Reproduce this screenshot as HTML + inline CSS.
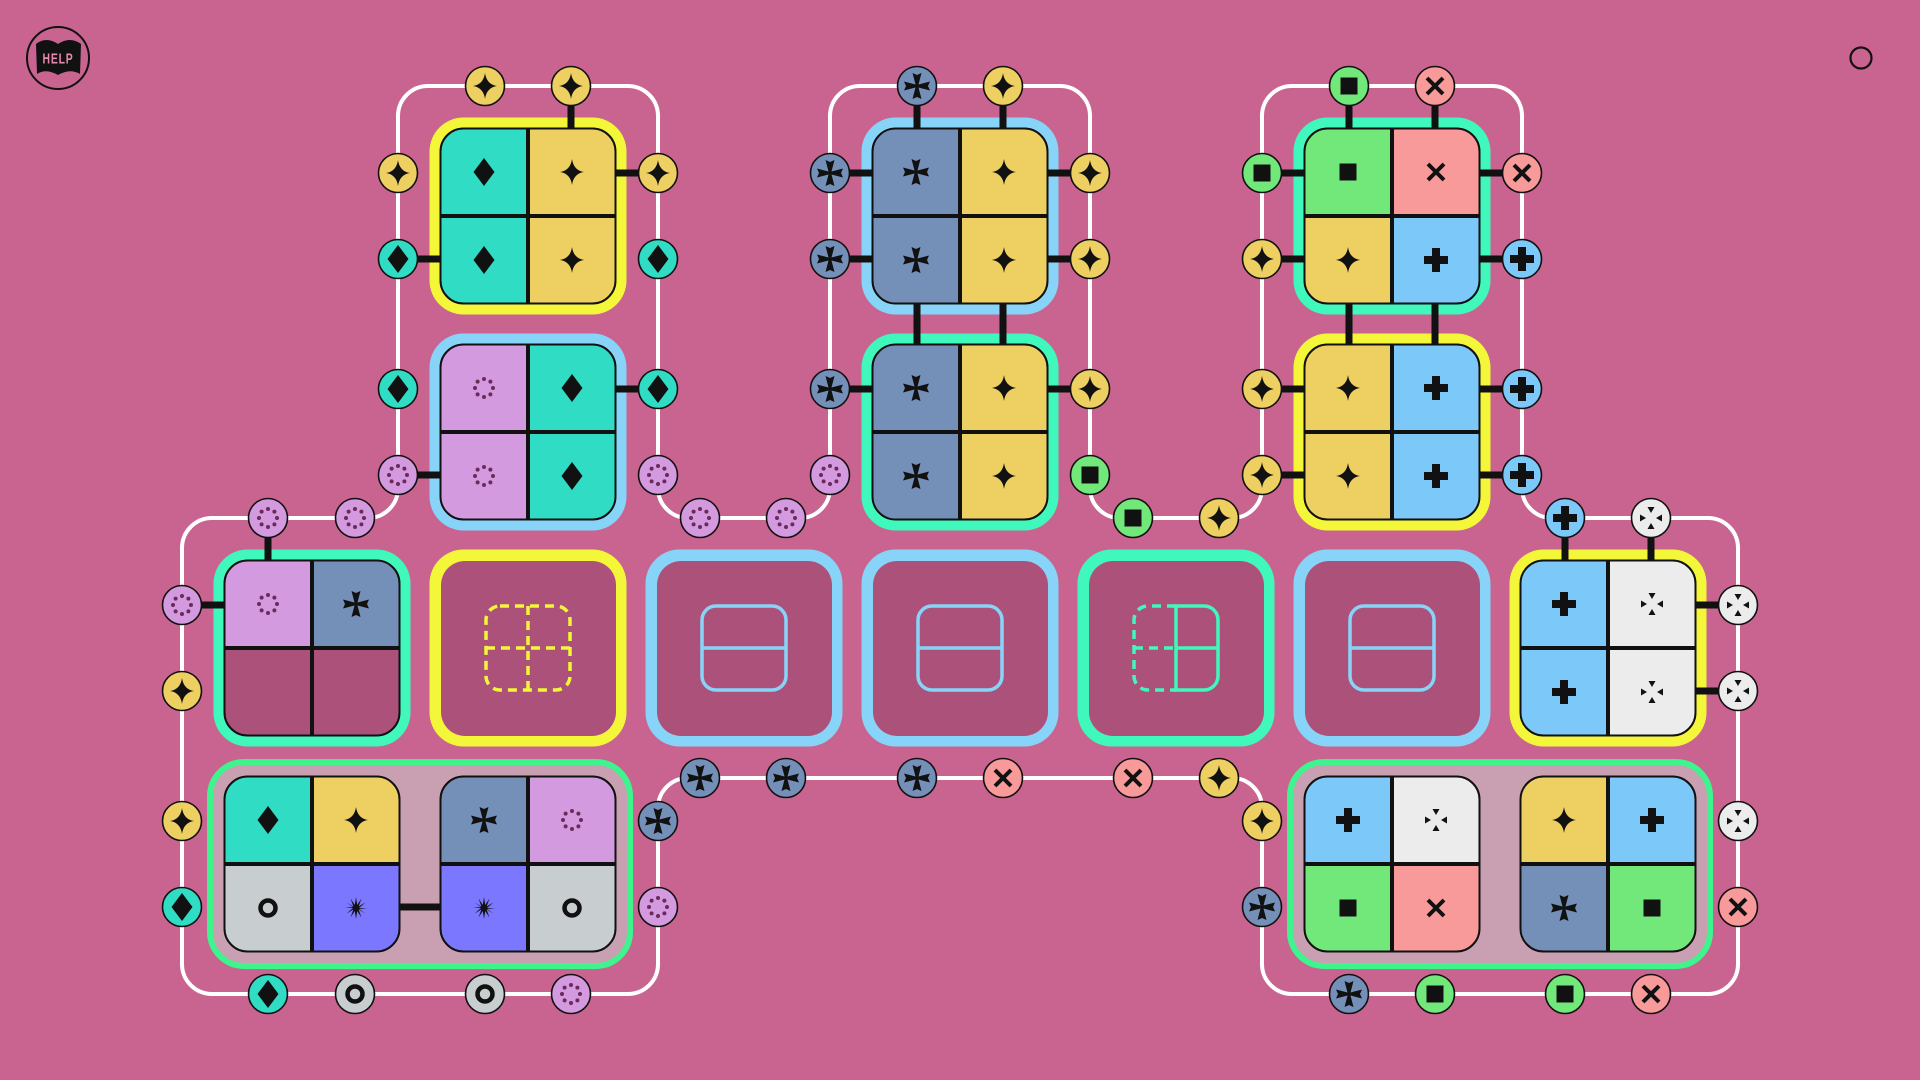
<!DOCTYPE html>
<html><head><meta charset="utf-8"><style>
html,body{margin:0;padding:0;background:#c8648f;}
svg{display:block}
</style></head><body>
<svg width="1920" height="1080" viewBox="0 0 1920 1080" xmlns="http://www.w3.org/2000/svg">
<defs>
<clipPath id="q" clipPathUnits="objectBoundingBox"><rect x="0" y="0" width="1" height="1" rx="0.13" ry="0.13"/></clipPath>
<path id="i-star" d="M0,-13 Q1.6,-1.6 12,0 Q1.6,1.6 0,13 Q-1.6,1.6 -12,0 Q-1.6,-1.6 0,-13Z" fill="#111"/>
<path id="i-diamond" d="M0,-14 L10.5,0 L0,14 L-10.5,0Z" fill="#111"/>
<path id="i-cross" d="M-1.5,-1.5 L-4.5,-13 L0,-11 L4.5,-13 L1.5,-1.5 L13,-4.5 L11,0 L13,4.5 L1.5,1.5 L4.5,13 L0,11 L-4.5,13 L-1.5,1.5 L-13,4.5 L-11,0 L-13,-4.5Z" fill="#111"/>
<path id="i-plus" d="M-4,-12 H4 V-4 H12 V4 H4 V12 H-4 V4 H-12 V-4 H-4Z" fill="#111"/>
<rect id="i-square" x="-8.5" y="-8.5" width="17" height="17" fill="#111"/>
<path id="i-x" d="M-8,-8 L8,8 M8,-8 L-8,8" stroke="#111" stroke-width="4" fill="none"/>
<g id="i-dot" fill="#6a2a5a"><circle cx="0" cy="-9" r="2"/><circle cx="6.4" cy="-6.4" r="2"/><circle cx="9" cy="0" r="2"/><circle cx="6.4" cy="6.4" r="2"/><circle cx="0" cy="9" r="2"/><circle cx="-6.4" cy="6.4" r="2"/><circle cx="-9" cy="0" r="2"/><circle cx="-6.4" cy="-6.4" r="2"/></g>
<g id="i-white" fill="#111"><path d="M0,-5 L-3.5,-11 L3.5,-11Z"/><path d="M0,5 L-3.5,11 L3.5,11Z"/><path d="M-5,0 L-11,-3.5 L-11,3.5Z"/><path d="M5,0 L11,-3.5 L11,3.5Z"/></g>
<circle id="i-ring" cx="0" cy="0" r="7.5" stroke="#111" stroke-width="4.5" fill="none"/>
<path id="i-burst" d="M0,-11 L1.2,-3 L5.5,-9.5 L2.6,-1.5 L9.5,-5.5 L3,0 L11,0 L3,1 L9.5,5.5 L2.6,1.5 L5.5,9.5 L1.2,3 L0,11 L-1.2,3 L-5.5,9.5 L-2.6,1.5 L-9.5,5.5 L-3,0 L-11,0 L-3,-1 L-9.5,-5.5 L-2.6,-1.5 L-5.5,-9.5 L-1.2,-3Z" fill="#111"/>
</defs>

<!-- help -->
<circle cx="58" cy="58" r="31" fill="none" stroke="#111" stroke-width="2"/>
<path d="M36,44 Q46,36 58,44 Q70,36 81,44 L80,74 Q70,68 58,75 Q46,68 37,74Z" fill="#111"/>
<text x="58" y="63" text-anchor="middle" font-family="Liberation Sans, sans-serif" font-weight="bold" font-size="13" fill="#e88ab0" transform="translate(58 58) scale(0.8 1.15) translate(-58 -58)" letter-spacing="1">HELP</text>
<circle cx="1861" cy="58" r="10.5" fill="none" stroke="#111" stroke-width="2.2"/>

<!-- outline -->
<path d="M398,116 A30,30 0 0 1 428,86 H628 A30,30 0 0 1 658,116 V488 A30,30 0 0 0 688,518 H800 A30,30 0 0 0 830,488 V116 A30,30 0 0 1 860,86 H1060 A30,30 0 0 1 1090,116 V488 A30,30 0 0 0 1120,518 H1232 A30,30 0 0 0 1262,488 V116 A30,30 0 0 1 1292,86 H1492 A30,30 0 0 1 1522,116 V488 A30,30 0 0 0 1552,518 H1708 A30,30 0 0 1 1738,548 V964 A30,30 0 0 1 1708,994 H1292 A30,30 0 0 1 1262,964 V808 A30,30 0 0 0 1232,778 H688 A30,30 0 0 0 658,808 V964 A30,30 0 0 1 628,994 H212 A30,30 0 0 1 182,964 V548 A30,30 0 0 1 212,518 H368 A30,30 0 0 0 398,488 Z" fill="none" stroke="#fff" stroke-width="4"/>

<!-- bottom groups -->
<rect x="210" y="762" width="420" height="204" rx="34" fill="#c99fb2" stroke="#3df58c" stroke-width="6"/>
<rect x="1290" y="762" width="420" height="204" rx="34" fill="#c99fb2" stroke="#3df58c" stroke-width="6"/>

<!-- tile borders -->
<g>
<rect x="429.5" y="117.5" width="197" height="197" rx="34" fill="#f4f63a"/>
<rect x="429.5" y="333.5" width="197" height="197" rx="34" fill="#88d4f8"/>
<rect x="861.5" y="117.5" width="197" height="197" rx="34" fill="#88d4f8"/>
<rect x="861.5" y="333.5" width="197" height="197" rx="34" fill="#40f8bc"/>
<rect x="1293.5" y="117.5" width="197" height="197" rx="34" fill="#40f8bc"/>
<rect x="1293.5" y="333.5" width="197" height="197" rx="34" fill="#f4f63a"/>
<rect x="213.5" y="549.5" width="197" height="197" rx="34" fill="#40f8bc"/>
<rect x="429.5" y="549.5" width="197" height="197" rx="34" fill="#f4f63a"/>
<rect x="645.5" y="549.5" width="197" height="197" rx="34" fill="#88d4f8"/>
<rect x="861.5" y="549.5" width="197" height="197" rx="34" fill="#88d4f8"/>
<rect x="1077.5" y="549.5" width="197" height="197" rx="34" fill="#40f8bc"/>
<rect x="1293.5" y="549.5" width="197" height="197" rx="34" fill="#88d4f8"/>
<rect x="1509.5" y="549.5" width="197" height="197" rx="34" fill="#f4f63a"/>
</g>
<!-- empty tiles inner -->
<g fill="#ac527a">
<rect x="441" y="561" width="175" height="175" rx="24"/>
<rect x="657" y="561" width="175" height="175" rx="24"/>
<rect x="873" y="561" width="175" height="175" rx="24"/>
<rect x="1089" y="561" width="175" height="175" rx="24"/>
<rect x="1305" y="561" width="175" height="175" rx="24"/>
</g>
<!-- empty-tile icons -->
<g fill="none" stroke-width="3.5">
<g stroke="#f4f63a" stroke-dasharray="9 6"><rect x="486" y="606" width="84" height="84" rx="14"/><line x1="528" y1="606" x2="528" y2="690"/><line x1="486" y1="648" x2="570" y2="648"/></g>
<g stroke="#88d4f8"><rect x="702" y="606" width="84" height="84" rx="14"/><line x1="702" y1="648" x2="786" y2="648"/></g>
<g stroke="#88d4f8"><rect x="918" y="606" width="84" height="84" rx="14"/><line x1="918" y1="648" x2="1002" y2="648"/></g>
<g stroke="#88d4f8"><rect x="1350" y="606" width="84" height="84" rx="14"/><line x1="1350" y1="648" x2="1434" y2="648"/></g>
<g stroke="#40f8bc"><path d="M1176,606 H1204 A14,14 0 0 1 1218,620 V676 A14,14 0 0 1 1204,690 H1176 Z M1176,648 H1218"/><path d="M1176,606 H1148 A14,14 0 0 0 1134,620 V676 A14,14 0 0 0 1148,690 H1176 M1134,648 H1176" stroke-dasharray="9 6"/></g>
</g>

<!-- quad tiles -->
<g clip-path="url(#q)"><rect x="440.5" y="128.5" width="87.5" height="87.5" fill="#30dcc4"/><rect x="528" y="128.5" width="87.5" height="87.5" fill="#eed062"/><rect x="440.5" y="216" width="87.5" height="87.5" fill="#30dcc4"/><rect x="528" y="216" width="87.5" height="87.5" fill="#eed062"/></g>
<g clip-path="url(#q)"><rect x="440.5" y="344.5" width="87.5" height="87.5" fill="#d49ae0"/><rect x="528" y="344.5" width="87.5" height="87.5" fill="#30dcc4"/><rect x="440.5" y="432" width="87.5" height="87.5" fill="#d49ae0"/><rect x="528" y="432" width="87.5" height="87.5" fill="#30dcc4"/></g>
<g clip-path="url(#q)"><rect x="872.5" y="128.5" width="87.5" height="87.5" fill="#7590b8"/><rect x="960" y="128.5" width="87.5" height="87.5" fill="#eed062"/><rect x="872.5" y="216" width="87.5" height="87.5" fill="#7590b8"/><rect x="960" y="216" width="87.5" height="87.5" fill="#eed062"/></g>
<g clip-path="url(#q)"><rect x="872.5" y="344.5" width="87.5" height="87.5" fill="#7590b8"/><rect x="960" y="344.5" width="87.5" height="87.5" fill="#eed062"/><rect x="872.5" y="432" width="87.5" height="87.5" fill="#7590b8"/><rect x="960" y="432" width="87.5" height="87.5" fill="#eed062"/></g>
<g clip-path="url(#q)"><rect x="1304.5" y="128.5" width="87.5" height="87.5" fill="#72e87a"/><rect x="1392" y="128.5" width="87.5" height="87.5" fill="#f89a9a"/><rect x="1304.5" y="216" width="87.5" height="87.5" fill="#eed062"/><rect x="1392" y="216" width="87.5" height="87.5" fill="#7cc8f8"/></g>
<g clip-path="url(#q)"><rect x="1304.5" y="344.5" width="87.5" height="87.5" fill="#eed062"/><rect x="1392" y="344.5" width="87.5" height="87.5" fill="#7cc8f8"/><rect x="1304.5" y="432" width="87.5" height="87.5" fill="#eed062"/><rect x="1392" y="432" width="87.5" height="87.5" fill="#7cc8f8"/></g>
<g clip-path="url(#q)"><rect x="224.5" y="560.5" width="87.5" height="87.5" fill="#d49ae0"/><rect x="312" y="560.5" width="87.5" height="87.5" fill="#7590b8"/><rect x="224.5" y="648" width="87.5" height="87.5" fill="#ac527a"/><rect x="312" y="648" width="87.5" height="87.5" fill="#ac527a"/></g>
<g clip-path="url(#q)"><rect x="1520.5" y="560.5" width="87.5" height="87.5" fill="#7cc8f8"/><rect x="1608" y="560.5" width="87.5" height="87.5" fill="#ececec"/><rect x="1520.5" y="648" width="87.5" height="87.5" fill="#7cc8f8"/><rect x="1608" y="648" width="87.5" height="87.5" fill="#ececec"/></g>
<g clip-path="url(#q)"><rect x="224.5" y="776.5" width="87.5" height="87.5" fill="#30dcc4"/><rect x="312" y="776.5" width="87.5" height="87.5" fill="#eed062"/><rect x="224.5" y="864" width="87.5" height="87.5" fill="#c8cecf"/><rect x="312" y="864" width="87.5" height="87.5" fill="#7b78ff"/></g>
<g clip-path="url(#q)"><rect x="440.5" y="776.5" width="87.5" height="87.5" fill="#7590b8"/><rect x="528" y="776.5" width="87.5" height="87.5" fill="#d49ae0"/><rect x="440.5" y="864" width="87.5" height="87.5" fill="#7b78ff"/><rect x="528" y="864" width="87.5" height="87.5" fill="#c8cecf"/></g>
<g clip-path="url(#q)"><rect x="1304.5" y="776.5" width="87.5" height="87.5" fill="#7cc8f8"/><rect x="1392" y="776.5" width="87.5" height="87.5" fill="#ececec"/><rect x="1304.5" y="864" width="87.5" height="87.5" fill="#72e87a"/><rect x="1392" y="864" width="87.5" height="87.5" fill="#f89a9a"/></g>
<g clip-path="url(#q)"><rect x="1520.5" y="776.5" width="87.5" height="87.5" fill="#eed062"/><rect x="1608" y="776.5" width="87.5" height="87.5" fill="#7cc8f8"/><rect x="1520.5" y="864" width="87.5" height="87.5" fill="#7590b8"/><rect x="1608" y="864" width="87.5" height="87.5" fill="#72e87a"/></g>

<!-- dividers + outlines -->
<g stroke="#111" fill="none">
<g stroke-width="4">
<path d="M528,128.5V303.5M440.5,216H615.5 M528,344.5V519.5M440.5,432H615.5 M960,128.5V303.5M872.5,216H1047.5 M960,344.5V519.5M872.5,432H1047.5 M1392,128.5V303.5M1304.5,216H1479.5 M1392,344.5V519.5M1304.5,432H1479.5 M312,560.5V735.5M224.5,648H399.5 M1608,560.5V735.5M1520.5,648H1695.5 M312,776.5V951.5M224.5,864H399.5 M528,776.5V951.5M440.5,864H615.5 M1392,776.5V951.5M1304.5,864H1479.5 M1608,776.5V951.5M1520.5,864H1695.5"/>
</g>
<g stroke-width="2">
<rect x="440.5" y="128.5" width="175" height="175" rx="23"/>
<rect x="440.5" y="344.5" width="175" height="175" rx="23"/>
<rect x="872.5" y="128.5" width="175" height="175" rx="23"/>
<rect x="872.5" y="344.5" width="175" height="175" rx="23"/>
<rect x="1304.5" y="128.5" width="175" height="175" rx="23"/>
<rect x="1304.5" y="344.5" width="175" height="175" rx="23"/>
<rect x="224.5" y="560.5" width="175" height="175" rx="23"/>
<rect x="1520.5" y="560.5" width="175" height="175" rx="23"/>
<rect x="224.5" y="776.5" width="175" height="175" rx="23"/>
<rect x="440.5" y="776.5" width="175" height="175" rx="23"/>
<rect x="1304.5" y="776.5" width="175" height="175" rx="23"/>
<rect x="1520.5" y="776.5" width="175" height="175" rx="23"/>
</g>
</g>

<!-- quadrant icons -->
<use href="#i-diamond" x="484" y="172"/><use href="#i-star" x="572" y="172"/><use href="#i-diamond" x="484" y="260"/><use href="#i-star" x="572" y="260"/>
<use href="#i-dot" x="484" y="388"/><use href="#i-diamond" x="572" y="388"/><use href="#i-dot" x="484" y="476"/><use href="#i-diamond" x="572" y="476"/>
<use href="#i-cross" x="916" y="172"/><use href="#i-star" x="1004" y="172"/><use href="#i-cross" x="916" y="260"/><use href="#i-star" x="1004" y="260"/>
<use href="#i-cross" x="916" y="388"/><use href="#i-star" x="1004" y="388"/><use href="#i-cross" x="916" y="476"/><use href="#i-star" x="1004" y="476"/>
<use href="#i-square" x="1348" y="172"/><use href="#i-x" x="1436" y="172"/><use href="#i-star" x="1348" y="260"/><use href="#i-plus" x="1436" y="260"/>
<use href="#i-star" x="1348" y="388"/><use href="#i-plus" x="1436" y="388"/><use href="#i-star" x="1348" y="476"/><use href="#i-plus" x="1436" y="476"/>
<use href="#i-dot" x="268" y="604"/><use href="#i-cross" x="356" y="604"/>
<use href="#i-plus" x="1564" y="604"/><use href="#i-white" x="1652" y="604"/><use href="#i-plus" x="1564" y="692"/><use href="#i-white" x="1652" y="692"/>
<use href="#i-diamond" x="268" y="820"/><use href="#i-star" x="356" y="820"/><use href="#i-ring" x="268" y="908"/><use href="#i-burst" x="356" y="908"/>
<use href="#i-cross" x="484" y="820"/><use href="#i-dot" x="572" y="820"/><use href="#i-burst" x="484" y="908"/><use href="#i-ring" x="572" y="908"/>
<use href="#i-plus" x="1348" y="820"/><use href="#i-white" x="1436" y="820"/><use href="#i-square" x="1348" y="908"/><use href="#i-x" x="1436" y="908"/>
<use href="#i-star" x="1564" y="820"/><use href="#i-plus" x="1652" y="820"/><use href="#i-cross" x="1564" y="908"/><use href="#i-square" x="1652" y="908"/>

<!-- bars -->
<g stroke="#111" stroke-width="7">
<path d="M571,86V129 M398,259H441 M658,173H615 M658,389H615 M398,475H441"/>
<path d="M917,86V129 M1003,86V129 M830,173H873 M830,259H873 M830,389H873 M1090,173H1047 M1090,259H1047 M1090,389H1047 M917,303V345 M1003,303V345"/>
<path d="M1349,86V129 M1435,86V129 M1262,173H1305 M1262,259H1305 M1262,389H1305 M1262,475H1305 M1522,173H1479 M1522,259H1479 M1522,389H1479 M1522,475H1479 M1349,303V345 M1435,303V345"/>
<path d="M1565,518V561 M1651,518V561 M1738,605H1695 M1738,691H1695 M268,518V561 M182,605H225 M399,907H441"/>
</g>

<!-- ports -->
<g stroke="#111" stroke-width="1.6">
<g fill="#eed062"><circle cx="485" cy="86" r="19.5"/><circle cx="571" cy="86" r="19.5"/><circle cx="398" cy="173" r="19.5"/><circle cx="658" cy="173" r="19.5"/><circle cx="1003" cy="86" r="19.5"/><circle cx="1090" cy="173" r="19.5"/><circle cx="1090" cy="259" r="19.5"/><circle cx="1090" cy="389" r="19.5"/><circle cx="1219" cy="518" r="19.5"/><circle cx="1262" cy="259" r="19.5"/><circle cx="1262" cy="389" r="19.5"/><circle cx="1262" cy="475" r="19.5"/><circle cx="1262" cy="821" r="19.5"/><circle cx="1219" cy="778" r="19.5"/><circle cx="182" cy="691" r="19.5"/><circle cx="182" cy="821" r="19.5"/></g>
<g fill="#30dcc4"><circle cx="398" cy="259" r="19.5"/><circle cx="658" cy="259" r="19.5"/><circle cx="398" cy="389" r="19.5"/><circle cx="658" cy="389" r="19.5"/><circle cx="182" cy="907" r="19.5"/><circle cx="268" cy="994" r="19.5"/></g>
<g fill="#d49ae0"><circle cx="398" cy="475" r="19.5"/><circle cx="658" cy="475" r="19.5"/><circle cx="700" cy="518" r="19.5"/><circle cx="786" cy="518" r="19.5"/><circle cx="830" cy="475" r="19.5"/><circle cx="268" cy="518" r="19.5"/><circle cx="355" cy="518" r="19.5"/><circle cx="182" cy="605" r="19.5"/><circle cx="571" cy="994" r="19.5"/><circle cx="658" cy="907" r="19.5"/></g>
<g fill="#7590b8"><circle cx="917" cy="86" r="19.5"/><circle cx="830" cy="173" r="19.5"/><circle cx="830" cy="259" r="19.5"/><circle cx="830" cy="389" r="19.5"/><circle cx="1349" cy="994" r="19.5"/><circle cx="1262" cy="907" r="19.5"/><circle cx="700" cy="778" r="19.5"/><circle cx="786" cy="778" r="19.5"/><circle cx="917" cy="778" r="19.5"/><circle cx="658" cy="821" r="19.5"/></g>
<g fill="#72e87a"><circle cx="1090" cy="475" r="19.5"/><circle cx="1133" cy="518" r="19.5"/><circle cx="1349" cy="86" r="19.5"/><circle cx="1262" cy="173" r="19.5"/><circle cx="1435" cy="994" r="19.5"/><circle cx="1565" cy="994" r="19.5"/></g>
<g fill="#f89a9a"><circle cx="1435" cy="86" r="19.5"/><circle cx="1522" cy="173" r="19.5"/><circle cx="1738" cy="907" r="19.5"/><circle cx="1651" cy="994" r="19.5"/><circle cx="1003" cy="778" r="19.5"/><circle cx="1133" cy="778" r="19.5"/></g>
<g fill="#7cc8f8"><circle cx="1522" cy="259" r="19.5"/><circle cx="1522" cy="389" r="19.5"/><circle cx="1522" cy="475" r="19.5"/><circle cx="1565" cy="518" r="19.5"/></g>
<g fill="#ececec"><circle cx="1651" cy="518" r="19.5"/><circle cx="1738" cy="605" r="19.5"/><circle cx="1738" cy="691" r="19.5"/><circle cx="1738" cy="821" r="19.5"/></g>
<g fill="#c8cecf"><circle cx="355" cy="994" r="19.5"/><circle cx="485" cy="994" r="19.5"/></g>
</g>
<!-- port icons -->
<g>
<use href="#i-star" x="485" y="86"/><use href="#i-star" x="571" y="86"/><use href="#i-star" x="398" y="173"/><use href="#i-star" x="658" y="173"/><use href="#i-star" x="1003" y="86"/><use href="#i-star" x="1090" y="173"/><use href="#i-star" x="1090" y="259"/><use href="#i-star" x="1090" y="389"/><use href="#i-star" x="1219" y="518"/><use href="#i-star" x="1262" y="259"/><use href="#i-star" x="1262" y="389"/><use href="#i-star" x="1262" y="475"/><use href="#i-star" x="1262" y="821"/><use href="#i-star" x="1219" y="778"/><use href="#i-star" x="182" y="691"/><use href="#i-star" x="182" y="821"/>
<use href="#i-diamond" x="398" y="259"/><use href="#i-diamond" x="658" y="259"/><use href="#i-diamond" x="398" y="389"/><use href="#i-diamond" x="658" y="389"/><use href="#i-diamond" x="182" y="907"/><use href="#i-diamond" x="268" y="994"/>
<use href="#i-dot" x="398" y="475"/><use href="#i-dot" x="658" y="475"/><use href="#i-dot" x="700" y="518"/><use href="#i-dot" x="786" y="518"/><use href="#i-dot" x="830" y="475"/><use href="#i-dot" x="268" y="518"/><use href="#i-dot" x="355" y="518"/><use href="#i-dot" x="182" y="605"/><use href="#i-dot" x="571" y="994"/><use href="#i-dot" x="658" y="907"/>
<use href="#i-cross" x="917" y="86"/><use href="#i-cross" x="830" y="173"/><use href="#i-cross" x="830" y="259"/><use href="#i-cross" x="830" y="389"/><use href="#i-cross" x="1349" y="994"/><use href="#i-cross" x="1262" y="907"/><use href="#i-cross" x="700" y="778"/><use href="#i-cross" x="786" y="778"/><use href="#i-cross" x="917" y="778"/><use href="#i-cross" x="658" y="821"/>
<use href="#i-square" x="1090" y="475"/><use href="#i-square" x="1133" y="518"/><use href="#i-square" x="1349" y="86"/><use href="#i-square" x="1262" y="173"/><use href="#i-square" x="1435" y="994"/><use href="#i-square" x="1565" y="994"/>
<use href="#i-x" x="1435" y="86"/><use href="#i-x" x="1522" y="173"/><use href="#i-x" x="1738" y="907"/><use href="#i-x" x="1651" y="994"/><use href="#i-x" x="1003" y="778"/><use href="#i-x" x="1133" y="778"/>
<use href="#i-plus" x="1522" y="259"/><use href="#i-plus" x="1522" y="389"/><use href="#i-plus" x="1522" y="475"/><use href="#i-plus" x="1565" y="518"/>
<use href="#i-white" x="1651" y="518"/><use href="#i-white" x="1738" y="605"/><use href="#i-white" x="1738" y="691"/><use href="#i-white" x="1738" y="821"/>
<use href="#i-ring" x="355" y="994"/><use href="#i-ring" x="485" y="994"/>
</g>
</svg>
</body></html>
